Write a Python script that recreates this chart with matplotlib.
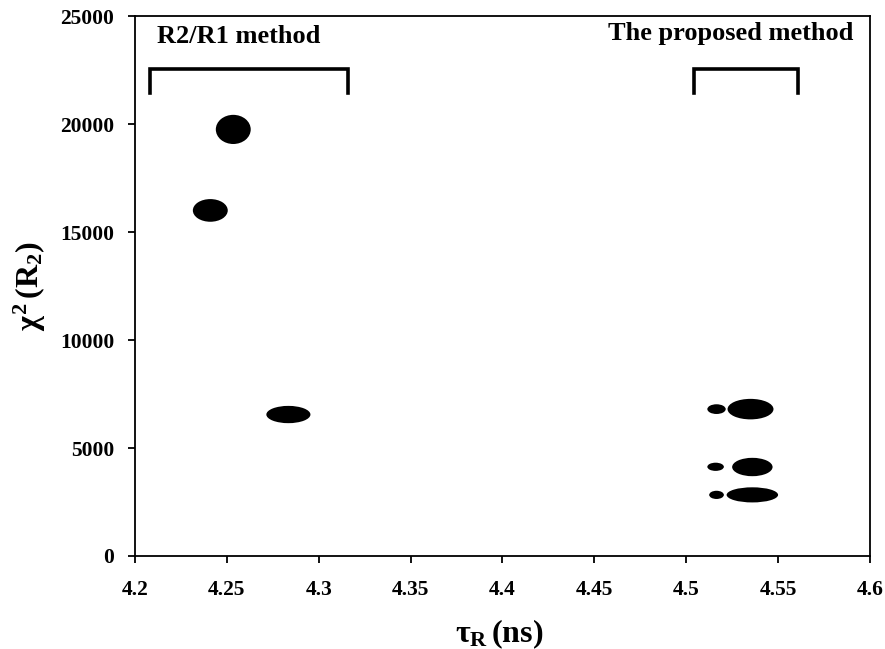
import matplotlib.pyplot as plt
from matplotlib.patches import Ellipse

# cluster centres and spreads
cluster_tau = [4.2535, 4.2410, 4.2835, 4.5350, 4.5360, 4.5360]
cluster_chi2 = [19750, 16000, 6550, 6800, 4120, 2830]
cluster_tau_width = [0.019, 0.019, 0.024, 0.025, 0.022, 0.028]
cluster_chi2_height = [1350, 1050, 800, 950, 850, 700]
# sparse tails to the left of the proposed-method clusters
tail_tau = [4.5165, 4.5160, 4.5165]
tail_chi2 = [6800, 4130, 2830]
tail_tau_width = [0.010, 0.009, 0.008]
tail_chi2_height = [450, 380, 380]

bracket_r2r1 = [4.208, 4.316]
bracket_prop = [4.504, 4.561]
bracket_top = 22550
bracket_bottom = 21450

x_ticks = [4.2, 4.25, 4.3, 4.35, 4.4, 4.45, 4.5, 4.55, 4.6]
y_ticks = [0, 5000, 10000, 15000, 20000, 25000]

plt.rcParams['font.family'] = ['Liberation Serif', 'DejaVu Serif']
plt.rcParams['font.weight'] = 'bold'
plt.rcParams['mathtext.fontset'] = 'custom'
plt.rcParams['mathtext.rm'] = 'Liberation Serif:bold'
plt.rcParams['mathtext.it'] = 'Liberation Serif:bold'
plt.rcParams['mathtext.bf'] = 'Liberation Serif:bold'

fig = plt.figure(figsize=(8.85, 6.49), dpi=100)
ax = fig.add_axes([0.1525, 0.1433, 0.8305, 0.832])

for cx, cy, w, h in zip(cluster_tau, cluster_chi2, cluster_tau_width, cluster_chi2_height):
    ax.add_patch(Ellipse((cx, cy), w, h, facecolor='black', edgecolor='none'))
for cx, cy, w, h in zip(tail_tau, tail_chi2, tail_tau_width, tail_chi2_height):
    ax.add_patch(Ellipse((cx, cy), w, h, facecolor='black', edgecolor='none'))

for xl, xr in [bracket_r2r1, bracket_prop]:
    ax.plot([xl, xl, xr, xr], [bracket_bottom, bracket_top, bracket_top, bracket_bottom],
            color='black', lw=2.6, solid_joinstyle='miter')

ax.text(4.2120, 23750, 'R2/R1 method', fontsize=19, fontweight='bold', va='baseline', ha='left')
ax.text(4.5908, 23890, 'The proposed method', fontsize=19, fontweight='bold', va='baseline', ha='right')

ax.set_xlim(4.2, 4.6)
ax.set_ylim(0, 25000)
ax.set_xticks(x_ticks)
ax.set_xticklabels([f'{v:g}' for v in x_ticks])
ax.set_yticks(y_ticks)
ax.tick_params(axis='both', direction='out', length=5, width=1.3, labelsize=15.5)
ax.tick_params(axis='x', pad=12)
ax.tick_params(axis='y', pad=10)
for s in ax.spines.values():
    s.set_linewidth(1.3)

ax.set_xlabel(r'$\tau_{\mathrm{R}}\,\mathrm{(ns)}$', fontsize=23)
ax.xaxis.set_label_coords(0.495, -0.113)
ax.set_ylabel(r'$\chi^{2}\,\mathrm{(R_{2})}$', fontsize=23)
ax.yaxis.set_label_coords(-0.118, 0.5)

fig.savefig('out.png', dpi=100)
